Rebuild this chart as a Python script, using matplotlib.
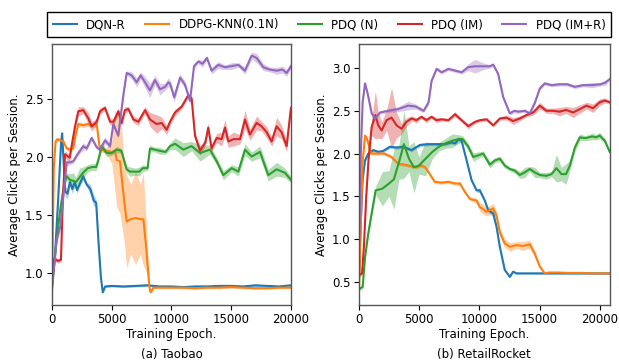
import matplotlib
matplotlib.use("Agg")
import matplotlib.pyplot as plt
import numpy as np

labels = ["DQN-R", "DDPG-KNN(0.1N)", "PDQ (N)", "PDQ (IM)", "PDQ (IM+R)"]
colors = ["#1f77b4", "#ff7f0e", "#2ca02c", "#d62728", "#9467bd"]

# ---- (a) Taobao ----
ta_dqn_x = [0, 250, 500, 750, 850, 950, 1100, 1300, 1500, 1700, 1900, 2100, 2300, 2600, 2900, 3200,
            3500, 3700, 3900, 4100, 4250, 4450, 5000, 6000, 7000, 8000, 9000, 10000, 11000, 12000,
            13000, 14000, 15000, 16000, 17000, 18000, 19000, 20000]
ta_dqn_y = [0.87, 1.15, 1.60, 2.10, 2.20, 2.00, 1.70, 1.68, 1.78, 1.72, 1.78, 1.71, 1.76, 1.83, 1.76, 1.72,
            1.62, 1.60, 1.25, 0.95, 0.83, 0.88, 0.885, 0.88, 0.885, 0.89, 0.88, 0.88, 0.875, 0.88,
            0.88, 0.885, 0.885, 0.88, 0.89, 0.885, 0.88, 0.89]
ta_dqn_s = [0.02, 0.03, 0.03, 0.03, 0.02, 0.03, 0.05, 0.04, 0.03, 0.04, 0.02, 0.03, 0.02, 0.03, 0.02, 0.04,
            0.05, 0.03, 0.03, 0.02, 0.01, 0.01, 0.01, 0.01, 0.01, 0.01, 0.01, 0.01, 0.01, 0.01,
            0.01, 0.01, 0.01, 0.01, 0.01, 0.01, 0.01, 0.01]

ta_ddpg_x = [0, 150, 300, 450, 700, 950, 1230, 1500, 1780, 2000, 2200, 2600, 3000, 3400, 3740, 3900,
             4020, 4500, 5000, 5270, 5410, 5690, 6030, 6250, 6600, 7000, 7400, 7650, 7900, 8150,
             8250, 8500, 9000, 10000, 11000, 12000, 13000, 14000, 15000, 16000, 17000, 18000, 19000, 20000]
ta_ddpg_y = [0.90, 1.90, 2.13, 2.15, 2.14, 2.13, 2.07, 2.06, 2.07, 2.20, 2.28, 2.27, 2.28, 2.27, 2.28, 2.15,
             2.06, 2.05, 2.04, 2.05, 1.97, 1.96, 1.63, 1.44, 1.46, 1.47, 1.46, 1.46, 1.20, 0.88,
             0.83, 0.87, 0.87, 0.87, 0.87, 0.865, 0.87, 0.87, 0.875, 0.87, 0.865, 0.865, 0.87, 0.87]
ta_ddpg_s = [0.02, 0.02, 0.02, 0.02, 0.02, 0.02, 0.02, 0.02, 0.02, 0.02, 0.02, 0.02, 0.02, 0.02, 0.02, 0.02,
             0.02, 0.02, 0.10, 0.35, 0.40, 0.45, 0.35, 0.40, 0.30, 0.40, 0.30, 0.40, 0.20, 0.03,
             0.01, 0.01, 0.01, 0.01, 0.01, 0.01, 0.01, 0.01, 0.01, 0.01, 0.01, 0.01, 0.01, 0.01]

ta_n_x = [0, 150, 400, 700, 1000, 1230, 1500, 1800, 2000, 2300, 2600, 3000, 3400, 3700, 3900, 4160,
          4580, 5000, 5410, 5800, 6250, 6530, 7000, 7300, 7600, 8000, 8200, 8600, 9000, 9500,
          9880, 10300, 10990, 11690, 12390, 13220, 13780, 14340, 15040, 15600, 16150, 16710, 17410,
          18100, 18800, 19500, 20000]
ta_n_y = [0.90, 1.05, 1.30, 1.55, 1.75, 1.83, 1.80, 1.79, 1.78, 1.82, 1.86, 1.90, 1.91, 1.91, 1.98, 2.09,
          2.03, 2.03, 2.06, 2.05, 1.89, 1.87, 1.87, 1.87, 1.90, 1.90, 2.07, 2.06, 2.05, 2.04,
          2.09, 2.11, 2.06, 2.09, 2.03, 2.06, 1.96, 1.84, 1.90, 1.87, 2.06, 2.00, 2.04,
          1.84, 1.89, 1.86, 1.80]
ta_n_s = [0.02, 0.03, 0.03, 0.03, 0.03, 0.03, 0.05, 0.07, 0.04, 0.08, 0.05, 0.03, 0.03, 0.03, 0.03, 0.03,
          0.03, 0.02, 0.03, 0.02, 0.03, 0.04, 0.03, 0.04, 0.03, 0.02, 0.03, 0.02, 0.03, 0.02,
          0.03, 0.05, 0.06, 0.04, 0.07, 0.04, 0.03, 0.04, 0.03, 0.04, 0.05, 0.04, 0.05,
          0.05, 0.06, 0.04, 0.03]

ta_im_x = [0, 200, 500, 750, 900, 1090, 1480, 1925, 2200, 2620, 3040, 3320, 3740, 4020, 4440, 4860,
           5150, 5550, 5830, 6100, 6390, 6810, 7230, 7790, 8200, 8760, 9180, 9600, 9880, 10300,
           10850, 11410, 11690, 11970, 12390, 12830, 13080, 13360, 13780, 14200, 14480, 14760, 15180,
           15740, 16150, 16570, 17130, 17550, 17970, 18380, 18800, 19220, 19640, 20000]
ta_im_y = [0.95, 1.12, 1.10, 1.11, 1.60, 2.02, 1.99, 2.26, 2.39, 2.40, 2.33, 2.26, 2.30, 2.39, 2.42, 2.30,
           2.30, 2.39, 2.29, 2.40, 2.41, 2.32, 2.30, 2.40, 2.32, 2.28, 2.29, 2.23, 2.30, 2.38,
           2.43, 2.53, 2.50, 2.18, 2.05, 2.12, 2.25, 2.07, 2.16, 2.15, 2.25, 2.13, 2.15,
           2.15, 2.32, 2.19, 2.29, 2.26, 2.21, 2.13, 2.26, 2.21, 2.09, 2.42]
ta_im_s = [0.02, 0.02, 0.02, 0.02, 0.03, 0.03, 0.03, 0.03, 0.04, 0.03, 0.05, 0.04, 0.03, 0.03, 0.02, 0.03,
           0.03, 0.03, 0.03, 0.03, 0.02, 0.03, 0.03, 0.03, 0.06, 0.08, 0.05, 0.04, 0.03, 0.03,
           0.02, 0.02, 0.02, 0.03, 0.04, 0.03, 0.04, 0.03, 0.04, 0.06, 0.07, 0.05, 0.06,
           0.04, 0.08, 0.05, 0.06, 0.04, 0.05, 0.04, 0.08, 0.06, 0.05, 0.04]

ta_imr_x = [0, 390, 700, 1090, 1230, 1500, 1780, 2200, 2620, 2900, 3320, 3740, 4020, 4440, 4860, 5130,
            5550, 5750, 6000, 6250, 6670, 7090, 7420, 7790, 8200, 8620, 9040, 9460, 9740, 9880,
            10230, 10720, 11130, 11550, 11890, 12250, 12600, 12970, 13360, 13920, 14480, 15040,
            15600, 16150, 16710, 17130, 17690, 18240, 18800, 19300, 19640, 20000]
ta_imr_y = [0.85, 1.28, 1.40, 1.80, 1.95, 1.95, 1.96, 2.03, 2.09, 2.07, 2.16, 2.08, 2.06, 2.14, 2.09, 2.28,
            2.18, 2.35, 2.55, 2.72, 2.70, 2.64, 2.70, 2.64, 2.57, 2.66, 2.58, 2.60, 2.64, 2.63,
            2.51, 2.68, 2.62, 2.48, 2.78, 2.82, 2.80, 2.85, 2.74, 2.79, 2.77, 2.78,
            2.79, 2.74, 2.87, 2.85, 2.77, 2.75, 2.74, 2.75, 2.72, 2.78]
ta_imr_s = [0.02, 0.03, 0.03, 0.03, 0.03, 0.02, 0.02, 0.02, 0.03, 0.02, 0.02, 0.02, 0.02, 0.03, 0.02, 0.03,
            0.02, 0.03, 0.03, 0.02, 0.03, 0.04, 0.03, 0.05, 0.06, 0.04, 0.05, 0.03, 0.04, 0.03,
            0.04, 0.03, 0.03, 0.03, 0.02, 0.02, 0.03, 0.02, 0.03, 0.03, 0.02, 0.03,
            0.02, 0.03, 0.03, 0.04, 0.03, 0.02, 0.03, 0.03, 0.03, 0.02]

# ---- (b) RetailRocket ----
rr_dqn_x = [0, 150, 300, 500, 770, 1180, 1600, 2000, 2570, 3100, 3670, 4360, 5050, 5740, 6430, 7130,
            7690, 8000, 8250, 8520, 8940, 9350, 9770, 10040, 10450, 10730, 11150, 11430, 11700, 12110,
            12530, 12810, 13080, 14000, 15000, 16000, 17000, 18000, 19000, 20000, 20830]
rr_dqn_y = [0.55, 1.20, 1.70, 1.92, 2.00, 2.04, 2.02, 2.03, 2.08, 2.07, 2.08, 2.04, 2.10, 2.11, 2.11, 2.11,
            2.13, 2.12, 2.17, 2.15, 1.92, 1.69, 1.57, 1.57, 1.45, 1.34, 1.30, 1.14, 0.91, 0.64,
            0.56, 0.62, 0.60, 0.60, 0.60, 0.60, 0.60, 0.60, 0.60, 0.60, 0.60]
rr_dqn_s = [0.02, 0.03, 0.03, 0.02, 0.02, 0.02, 0.02, 0.02, 0.02, 0.02, 0.02, 0.02, 0.02, 0.02, 0.02, 0.02,
            0.02, 0.02, 0.03, 0.02, 0.02, 0.02, 0.02, 0.03, 0.02, 0.03, 0.04, 0.03, 0.02, 0.02,
            0.01, 0.01, 0.01, 0.01, 0.01, 0.01, 0.01, 0.01, 0.01, 0.01, 0.01]

rr_ddpg_x = [0, 150, 300, 500, 650, 1000, 1600, 2100, 2700, 3260, 3800, 4360, 4770, 5190, 5500, 5880,
             6290, 6860, 7420, 7970, 8390, 8800, 9220, 9770, 10040, 10320, 10600, 11150, 11430, 11700,
             12110, 12530, 13080, 13600, 14190, 14600, 15020, 15430, 15800, 16500, 17500, 18500, 19500, 20830]
rr_ddpg_y = [0.40, 1.20, 1.90, 2.21, 2.18, 2.00, 2.00, 2.00, 1.96, 1.88, 1.87, 1.85, 1.84, 1.86, 1.84, 1.76,
             1.67, 1.66, 1.67, 1.65, 1.65, 1.55, 1.47, 1.45, 1.375, 1.35, 1.32, 1.36, 1.27, 1.08,
             0.95, 0.91, 0.93, 0.92, 0.94, 0.83, 0.68, 0.60, 0.61, 0.61, 0.605, 0.605, 0.60, 0.60]
rr_ddpg_s = [0.02, 0.03, 0.03, 0.02, 0.02, 0.02, 0.02, 0.02, 0.02, 0.02, 0.02, 0.02, 0.02, 0.02, 0.02, 0.02,
             0.02, 0.02, 0.02, 0.02, 0.02, 0.02, 0.02, 0.03, 0.05, 0.06, 0.05, 0.06, 0.05, 0.05,
             0.05, 0.05, 0.04, 0.05, 0.05, 0.04, 0.02, 0.01, 0.01, 0.01, 0.01, 0.01, 0.01, 0.01]

rr_n_x = [0, 300, 500, 750, 1000, 1380, 1940, 2490, 2900, 3320, 3730, 4150, 4560, 4980, 5530, 6090,
          6640, 7190, 7740, 8300, 8600, 9080, 9490, 9910, 10320, 10870, 11290, 11700, 12110, 12530,
          12950, 13360, 13770, 14190, 14600, 15020, 15570, 16000, 16400, 16820, 17200, 17520, 17930,
          18350, 18800, 19370, 19700, 20000, 20420, 20830]
rr_n_y = [0.42, 0.44, 0.79, 1.05, 1.26, 1.57, 1.59, 1.65, 1.70, 1.90, 2.11, 1.94, 1.84, 1.86, 1.94, 2.02,
          2.08, 2.12, 2.15, 2.17, 2.17, 2.08, 1.96, 1.98, 2.00, 1.87, 1.92, 1.94, 1.86, 1.82,
          1.80, 1.75, 1.78, 1.82, 1.78, 1.75, 1.74, 1.76, 1.83, 1.76, 1.76, 1.86, 2.07,
          2.19, 2.18, 2.20, 2.19, 2.21, 2.15, 2.02]
rr_n_s = [0.02, 0.02, 0.03, 0.03, 0.03, 0.05, 0.20, 0.15, 0.35, 0.20, 0.40, 0.15, 0.30, 0.10, 0.20, 0.08,
          0.05, 0.06, 0.08, 0.05, 0.04, 0.04, 0.05, 0.04, 0.03, 0.04, 0.03, 0.03, 0.03, 0.02,
          0.03, 0.04, 0.06, 0.03, 0.06, 0.03, 0.04, 0.03, 0.16, 0.08, 0.12, 0.06, 0.05,
          0.04, 0.03, 0.04, 0.03, 0.04, 0.03, 0.03]

rr_im_x = [0, 250, 400, 600, 800, 1050, 1360, 1600, 1880, 2290, 2700, 3120, 3530, 3940, 4360, 4770,
           5190, 5600, 6020, 6430, 6860, 7420, 7970, 8520, 9080, 9630, 10040, 10600, 11150, 11700,
           12250, 12810, 13360, 13910, 14470, 15020, 15570, 16100, 16680, 17200, 17790, 18350,
           18900, 19450, 20000, 20420, 20830]
rr_im_y = [0.58, 0.60, 0.90, 1.50, 1.95, 2.31, 2.45, 2.33, 2.27, 2.39, 2.42, 2.33, 2.29, 2.37, 2.41, 2.39,
           2.43, 2.39, 2.43, 2.39, 2.40, 2.39, 2.46, 2.39, 2.32, 2.37, 2.39, 2.40, 2.33, 2.41,
           2.42, 2.38, 2.41, 2.45, 2.48, 2.56, 2.50, 2.50, 2.49, 2.51, 2.48, 2.52,
           2.56, 2.53, 2.60, 2.62, 2.60]
rr_im_s = [0.02, 0.02, 0.03, 0.05, 0.05, 0.10, 0.28, 0.15, 0.10, 0.12, 0.35, 0.15, 0.06, 0.05, 0.03, 0.03,
           0.02, 0.03, 0.02, 0.03, 0.02, 0.02, 0.03, 0.02, 0.03, 0.02, 0.02, 0.02, 0.02, 0.02,
           0.03, 0.04, 0.03, 0.02, 0.03, 0.04, 0.03, 0.03, 0.05, 0.04, 0.06, 0.05,
           0.04, 0.05, 0.04, 0.03, 0.02]

rr_imr_x = [0, 150, 300, 500, 720, 1050, 1330, 1740, 2430, 3260, 4090, 4700, 5370, 5780, 6030, 6450,
            6860, 7420, 7970, 8520, 9080, 9630, 10320, 10870, 11150, 11560, 11980, 12530, 12900, 13220,
            13770, 14190, 14600, 15020, 15430, 15990, 16680, 17300, 17930, 18600, 19370, 20060,
            20470, 20830]
rr_imr_y = [0.90, 2.00, 2.60, 2.82, 2.70, 2.47, 2.41, 2.48, 2.50, 2.52, 2.56, 2.55, 2.50, 2.60, 2.85, 2.99,
            2.95, 2.99, 2.97, 2.95, 3.01, 3.02, 3.02, 3.02, 3.04, 2.93, 2.66, 2.47, 2.50, 2.49,
            2.50, 2.47, 2.59, 2.76, 2.82, 2.80, 2.81, 2.81, 2.78, 2.80, 2.80, 2.81,
            2.83, 2.87]
rr_imr_s = [0.02, 0.03, 0.03, 0.03, 0.03, 0.03, 0.03, 0.02, 0.02, 0.03, 0.05, 0.03, 0.02, 0.03, 0.02, 0.02,
            0.02, 0.02, 0.02, 0.02, 0.04, 0.08, 0.04, 0.02, 0.02, 0.02, 0.02, 0.02, 0.02, 0.02,
            0.02, 0.02, 0.02, 0.02, 0.02, 0.02, 0.02, 0.02, 0.02, 0.02, 0.03, 0.02,
            0.03, 0.02]

taobao = [(ta_dqn_x, ta_dqn_y, ta_dqn_s), (ta_ddpg_x, ta_ddpg_y, ta_ddpg_s), (ta_n_x, ta_n_y, ta_n_s),
          (ta_im_x, ta_im_y, ta_im_s), (ta_imr_x, ta_imr_y, ta_imr_s)]
retail = [(rr_dqn_x, rr_dqn_y, rr_dqn_s), (rr_ddpg_x, rr_ddpg_y, rr_ddpg_s), (rr_n_x, rr_n_y, rr_n_s),
          (rr_im_x, rr_im_y, rr_im_s), (rr_imr_x, rr_imr_y, rr_imr_s)]

plt.rcParams["font.family"] = "DejaVu Sans"
plt.rcParams["font.size"] = 8.5

fig = plt.figure(figsize=(6.19, 3.64), dpi=100)
ax1 = fig.add_axes([0.084, 0.162, 0.386, 0.717])
ax2 = fig.add_axes([0.580, 0.162, 0.405, 0.717])


def draw(ax, series):
    handles = []
    for (x, y, s), c, lab in zip(series, colors, labels):
        x = np.array(x, dtype=float)
        y = np.array(y)
        s = np.array(s)
        ax.fill_between(x, y - s, y + s, color=c, alpha=0.35, lw=0)
        h, = ax.plot(x, y, color=c, lw=1.5, label=lab)
        handles.append(h)
    for sp in ax.spines.values():
        sp.set_color("#555555")
        sp.set_linewidth(1.0)
    ax.set_xlabel("Training Epoch.", labelpad=1)
    ax.set_ylabel("Average Clicks per Session.", labelpad=3)
    ax.set_xticks([0, 5000, 10000, 15000, 20000])
    ax.tick_params(length=3.5, pad=2.5)
    return handles


handles = draw(ax1, taobao)
draw(ax2, retail)

ax1.set_xlim(0, 20000)
ax1.set_ylim(0.72, 2.97)
ax1.set_yticks([1.0, 1.5, 2.0, 2.5])
ax2.set_xlim(0, 20830)
ax2.set_ylim(0.23, 3.28)
ax2.set_yticks([0.5, 1.0, 1.5, 2.0, 2.5, 3.0])

fig.legend(handles=handles, loc="upper center", bbox_to_anchor=(0.532, 0.982), ncol=5,
           fancybox=False, edgecolor="black", framealpha=1, fontsize=8.5,
           columnspacing=1.65, handlelength=2.0, handletextpad=0.8, borderpad=0.5)

fig.text(0.277, 0.025, "(a) Taobao", ha="center", va="center", fontsize=8.5)
fig.text(0.782, 0.025, "(b) RetailRocket", ha="center", va="center", fontsize=8.5)

plt.savefig("out.png", dpi=100)
